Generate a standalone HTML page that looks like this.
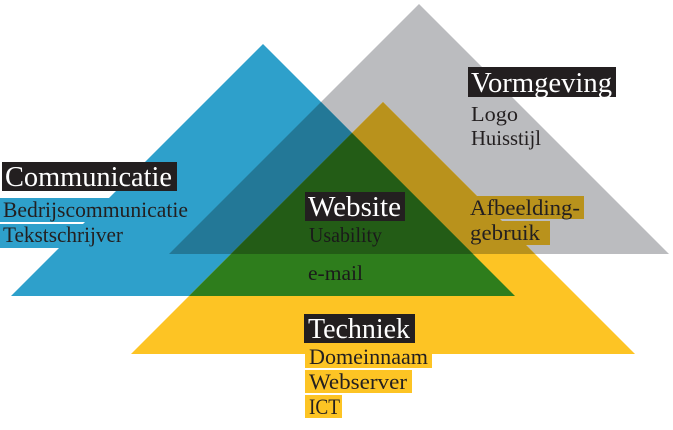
<!DOCTYPE html>
<html><head><meta charset="utf-8"><style>
html,body{margin:0;padding:0;background:#fff;width:673px;height:430px;overflow:hidden}
svg{display:block}
text{font-family:"Liberation Serif",serif}
</style></head><body>
<svg width="673" height="430" viewBox="0 0 673 430" xmlns="http://www.w3.org/2000/svg">
<defs>
<clipPath id="cb"><polygon points="263,44 515,296 11,296"/></clipPath>
<clipPath id="cg"><polygon points="419,4 669,254 169,254"/></clipPath>
</defs>
<polygon points="419,4 669,254 169,254" fill="#bbbcbf"/>
<polygon points="263,44 515,296 11,296" fill="#2ea0cb"/>
<polygon points="383,102 635,354 131,354" fill="#fdc424"/>
<polygon points="419,4 669,254 169,254" fill="#237897" clip-path="url(#cb)"/>
<polygon points="383,102 635,354 131,354" fill="#b9921c" clip-path="url(#cg)"/>
<polygon points="383,102 635,354 131,354" fill="#2e7d1c" clip-path="url(#cb)"/>
<g clip-path="url(#cb)"><polygon points="383,102 635,354 131,354" fill="#235c16" clip-path="url(#cg)"/></g>

<rect x="468" y="67" width="148" height="30" fill="#231f20"/>
<text x="471" y="92" font-size="28" fill="#fff" textLength="141" lengthAdjust="spacingAndGlyphs">Vormgeving</text>
<text x="471" y="121" font-size="21" fill="#231f20" textLength="47" lengthAdjust="spacingAndGlyphs">Logo</text>
<text x="471" y="145" font-size="21" fill="#231f20" textLength="70" lengthAdjust="spacingAndGlyphs">Huisstijl</text>

<rect x="2" y="162" width="175" height="29" fill="#231f20"/>
<text x="5" y="186" font-size="28" fill="#fff" textLength="167" lengthAdjust="spacingAndGlyphs">Communicatie</text>
<rect x="0" y="198" width="190" height="24" fill="#2ea0cb"/>
<rect x="0" y="224" width="125" height="24" fill="#2ea0cb"/>
<text x="3" y="217" font-size="22" fill="#231f20" textLength="185" lengthAdjust="spacingAndGlyphs">Bedrijscommunicatie</text>
<text x="3" y="242" font-size="22" fill="#231f20" textLength="120" lengthAdjust="spacingAndGlyphs">Tekstschrijver</text>

<rect x="305" y="192" width="100" height="29" fill="#231f20"/>
<text x="308" y="216" font-size="28" fill="#fff" textLength="93" lengthAdjust="spacingAndGlyphs">Website</text>
<text x="309" y="242" font-size="21" fill="#1a1a1a" textLength="73" lengthAdjust="spacingAndGlyphs">Usability</text>
<text x="308" y="280" font-size="21" fill="#1a1a1a" textLength="55" lengthAdjust="spacingAndGlyphs">e-mail</text>

<rect x="466" y="196" width="118" height="23" fill="#b9921c"/>
<rect x="466" y="221" width="84" height="24" fill="#b9921c"/>
<text x="470" y="215" font-size="22" fill="#231f20" textLength="110" lengthAdjust="spacingAndGlyphs">Afbeelding-</text>
<text x="470" y="240" font-size="22" fill="#231f20" textLength="70" lengthAdjust="spacingAndGlyphs">gebruik</text>

<rect x="304" y="314" width="111" height="29" fill="#231f20"/>
<text x="308" y="338" font-size="28" fill="#fff" textLength="102" lengthAdjust="spacingAndGlyphs">Techniek</text>
<rect x="305" y="345" width="127" height="23" fill="#fdc424"/>
<rect x="305" y="370" width="107" height="23" fill="#fdc424"/>
<rect x="305" y="395" width="37" height="23" fill="#fdc424"/>
<text x="309" y="364" font-size="22" fill="#231f20" textLength="119" lengthAdjust="spacingAndGlyphs">Domeinnaam</text>
<text x="309" y="389" font-size="22" fill="#231f20" textLength="98" lengthAdjust="spacingAndGlyphs">Webserver</text>
<text x="309" y="414" font-size="22" fill="#231f20" textLength="31" lengthAdjust="spacingAndGlyphs">ICT</text>
</svg>
</body></html>
